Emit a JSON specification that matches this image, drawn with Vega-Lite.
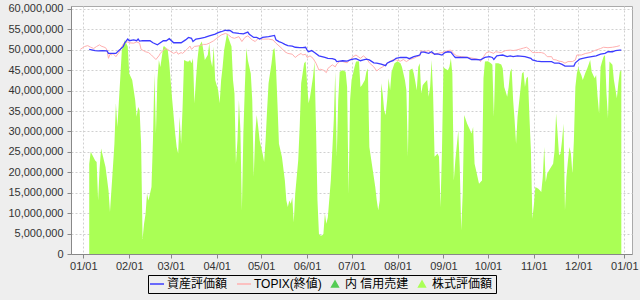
{
  "$schema": "https://vega.github.io/schema/vega-lite/v6.json",
  "autosize": {"type": "none"},
  "width": 561,
  "height": 248,
  "padding": {"left": 71, "top": 6, "right": 8, "bottom": 46},
  "background": "#eeeeee",
  "config": {
    "view": {"fill": "white", "stroke": "#aaaaaa"},
    "font": "Liberation Sans",
    "axis": {"labelFont": "Liberation Sans", "labelFontSize": 11, "labelColor": "#333333", "domainColor": "#888888", "tickColor": "#888888", "tickSize": 4, "gridColor": "#d0d0d0", "gridDash": [2, 2], "title": null}
  },
  "datasets": {
    "stock": [
      {"d":"2013-01-05","v":22000000},{"d":"2013-01-06","v":25000000},{"d":"2013-01-09","v":22900000},{"d":"2013-01-10","v":22500000},{"d":"2013-01-11","v":13100000},{"d":"2013-01-12","v":20900000},{"d":"2013-01-13","v":25800000},{"d":"2013-01-16","v":21300000},{"d":"2013-01-18","v":15600000},{"d":"2013-01-19","v":10300000},{"d":"2013-01-21","v":21300000},{"d":"2013-01-22","v":27000000},{"d":"2013-01-23","v":36900000},{"d":"2013-01-24","v":31100000},{"d":"2013-01-26","v":43400000},{"d":"2013-01-27","v":49900000},{"d":"2013-01-29","v":52400000},{"d":"2013-01-31","v":50800000},
      {"d":"2013-02-01","v":44200000},{"d":"2013-02-03","v":42600000},{"d":"2013-02-05","v":37700000},{"d":"2013-02-06","v":33600000},{"d":"2013-02-07","v":36000000},{"d":"2013-02-08","v":35200000},{"d":"2013-02-09","v":27000000},{"d":"2013-02-10","v":3700000},{"d":"2013-02-11","v":7400000},{"d":"2013-02-12","v":9800000},{"d":"2013-02-13","v":14800000},{"d":"2013-02-14","v":13100000},{"d":"2013-02-16","v":16400000},{"d":"2013-02-17","v":27800000},{"d":"2013-02-18","v":44200000},{"d":"2013-02-19","v":29500000},{"d":"2013-02-20","v":42600000},{"d":"2013-02-21","v":47500000},{"d":"2013-02-22","v":45800000},{"d":"2013-02-24","v":50800000},{"d":"2013-02-25","v":50800000},{"d":"2013-02-27","v":49900000},{"d":"2013-02-28","v":46700000},
      {"d":"2013-03-02","v":37700000},{"d":"2013-03-04","v":29500000},{"d":"2013-03-05","v":26200000},{"d":"2013-03-06","v":24600000},{"d":"2013-03-07","v":33600000},{"d":"2013-03-08","v":27000000},{"d":"2013-03-09","v":36000000},{"d":"2013-03-10","v":47500000},{"d":"2013-03-12","v":47100000},{"d":"2013-03-13","v":47100000},{"d":"2013-03-14","v":47500000},{"d":"2013-03-15","v":46700000},{"d":"2013-03-16","v":47900000},{"d":"2013-03-17","v":36900000},{"d":"2013-03-18","v":42600000},{"d":"2013-03-19","v":47500000},{"d":"2013-03-20","v":50800000},{"d":"2013-03-22","v":52000000},{"d":"2013-03-23","v":49900000},{"d":"2013-03-24","v":47500000},{"d":"2013-03-26","v":48700000},{"d":"2013-03-27","v":51600000},{"d":"2013-03-28","v":47500000},{"d":"2013-03-29","v":45800000},{"d":"2013-03-30","v":50800000},{"d":"2013-03-31","v":42600000},
      {"d":"2013-04-02","v":40100000},{"d":"2013-04-03","v":36900000},{"d":"2013-04-04","v":42600000},{"d":"2013-04-05","v":45800000},{"d":"2013-04-06","v":49900000},{"d":"2013-04-08","v":54000000},{"d":"2013-04-09","v":52800000},{"d":"2013-04-11","v":50800000},{"d":"2013-04-12","v":42600000},{"d":"2013-04-13","v":39300000},{"d":"2013-04-14","v":22100000},{"d":"2013-04-15","v":27800000},{"d":"2013-04-16","v":37700000},{"d":"2013-04-17","v":30300000},{"d":"2013-04-18","v":10700000},{"d":"2013-04-19","v":29500000},{"d":"2013-04-20","v":40900000},{"d":"2013-04-21","v":50400000},{"d":"2013-04-22","v":47500000},{"d":"2013-04-24","v":44200000},{"d":"2013-04-25","v":37700000},{"d":"2013-04-26","v":18900000},{"d":"2013-04-27","v":29500000},{"d":"2013-04-28","v":34000000},{"d":"2013-04-29","v":31100000},{"d":"2013-04-30","v":27800000},
      {"d":"2013-05-02","v":24600000},{"d":"2013-05-03","v":22500000},{"d":"2013-05-04","v":27800000},{"d":"2013-05-05","v":35200000},{"d":"2013-05-06","v":41800000},{"d":"2013-05-08","v":46700000},{"d":"2013-05-09","v":49900000},{"d":"2013-05-10","v":50400000},{"d":"2013-05-11","v":45800000},{"d":"2013-05-12","v":36900000},{"d":"2013-05-13","v":27000000},{"d":"2013-05-14","v":25400000},{"d":"2013-05-15","v":23800000},{"d":"2013-05-17","v":18000000},{"d":"2013-05-18","v":13100000},{"d":"2013-05-19","v":11500000},{"d":"2013-05-20","v":13100000},{"d":"2013-05-21","v":12300000},{"d":"2013-05-22","v":13900000},{"d":"2013-05-23","v":7800000},{"d":"2013-05-24","v":14800000},{"d":"2013-05-26","v":22900000},{"d":"2013-05-27","v":31100000},{"d":"2013-05-28","v":41800000},{"d":"2013-05-30","v":46700000},{"d":"2013-05-31","v":47100000},
      {"d":"2013-06-01","v":41800000},{"d":"2013-06-02","v":36900000},{"d":"2013-06-03","v":38500000},{"d":"2013-06-05","v":43400000},{"d":"2013-06-06","v":47100000},{"d":"2013-06-07","v":31100000},{"d":"2013-06-08","v":13100000},{"d":"2013-06-09","v":4900000},{"d":"2013-06-10","v":4500000},{"d":"2013-06-11","v":4500000},{"d":"2013-06-12","v":4900000},{"d":"2013-06-13","v":9900000},{"d":"2013-06-14","v":7400000},{"d":"2013-06-15","v":9000000},{"d":"2013-06-17","v":18000000},{"d":"2013-06-19","v":32800000},{"d":"2013-06-20","v":44600000},{"d":"2013-06-21","v":23800000},{"d":"2013-06-22","v":37700000},{"d":"2013-06-23","v":44600000},{"d":"2013-06-25","v":45000000},{"d":"2013-06-27","v":44600000},{"d":"2013-06-28","v":40900000},{"d":"2013-06-29","v":14800000},{"d":"2013-06-30","v":37700000},
      {"d":"2013-07-01","v":42600000},{"d":"2013-07-03","v":45800000},{"d":"2013-07-04","v":47100000},{"d":"2013-07-06","v":47200000},{"d":"2013-07-07","v":40900000},{"d":"2013-07-08","v":41300000},{"d":"2013-07-10","v":42600000},{"d":"2013-07-11","v":44600000},{"d":"2013-07-12","v":45400000},{"d":"2013-07-13","v":26200000},{"d":"2013-07-15","v":21300000},{"d":"2013-07-17","v":16400000},{"d":"2013-07-18","v":13100000},{"d":"2013-07-19","v":10700000},{"d":"2013-07-20","v":13100000},{"d":"2013-07-21","v":41800000},{"d":"2013-07-22","v":39300000},{"d":"2013-07-23","v":35200000},{"d":"2013-07-24","v":34000000},{"d":"2013-07-25","v":37700000},{"d":"2013-07-26","v":43000000},{"d":"2013-07-27","v":40100000},{"d":"2013-07-28","v":44600000},{"d":"2013-07-30","v":46700000},
      {"d":"2013-08-01","v":47200000},{"d":"2013-08-03","v":46700000},{"d":"2013-08-04","v":45800000},{"d":"2013-08-06","v":42600000},{"d":"2013-08-07","v":40100000},{"d":"2013-08-08","v":23800000},{"d":"2013-08-09","v":45000000},{"d":"2013-08-11","v":45400000},{"d":"2013-08-12","v":44200000},{"d":"2013-08-13","v":42200000},{"d":"2013-08-14","v":40100000},{"d":"2013-08-15","v":45800000},{"d":"2013-08-16","v":46700000},{"d":"2013-08-17","v":39300000},{"d":"2013-08-18","v":41300000},{"d":"2013-08-19","v":41800000},{"d":"2013-08-21","v":42600000},{"d":"2013-08-22","v":38500000},{"d":"2013-08-23","v":40900000},{"d":"2013-08-24","v":47500000},{"d":"2013-08-25","v":39300000},{"d":"2013-08-26","v":23800000},{"d":"2013-08-27","v":24200000},{"d":"2013-08-28","v":24600000},{"d":"2013-08-29","v":23800000},{"d":"2013-08-30","v":11500000},{"d":"2013-08-31","v":25400000},
      {"d":"2013-09-01","v":45800000},{"d":"2013-09-02","v":45400000},{"d":"2013-09-04","v":45000000},{"d":"2013-09-05","v":45800000},{"d":"2013-09-06","v":47900000},{"d":"2013-09-07","v":44200000},{"d":"2013-09-08","v":18000000},{"d":"2013-09-09","v":22900000},{"d":"2013-09-11","v":30300000},{"d":"2013-09-12","v":21300000},{"d":"2013-09-13","v":5800000},{"d":"2013-09-14","v":14800000},{"d":"2013-09-15","v":34000000},{"d":"2013-09-17","v":31900000},{"d":"2013-09-19","v":30300000},{"d":"2013-09-20","v":29500000},{"d":"2013-09-21","v":31100000},{"d":"2013-09-22","v":22100000},{"d":"2013-09-23","v":20500000},{"d":"2013-09-25","v":17200000},{"d":"2013-09-26","v":17600000},{"d":"2013-09-27","v":18000000},{"d":"2013-09-28","v":43000000},{"d":"2013-09-29","v":47100000},
      {"d":"2013-10-01","v":47200000},{"d":"2013-10-03","v":46700000},{"d":"2013-10-04","v":46300000},{"d":"2013-10-05","v":33600000},{"d":"2013-10-06","v":46700000},{"d":"2013-10-08","v":46700000},{"d":"2013-10-10","v":46400000},{"d":"2013-10-11","v":45400000},{"d":"2013-10-12","v":40900000},{"d":"2013-10-14","v":38500000},{"d":"2013-10-15","v":40900000},{"d":"2013-10-16","v":44600000},{"d":"2013-10-17","v":45400000},{"d":"2013-10-18","v":37700000},{"d":"2013-10-19","v":32800000},{"d":"2013-10-20","v":27000000},{"d":"2013-10-21","v":33600000},{"d":"2013-10-23","v":40500000},{"d":"2013-10-24","v":44200000},{"d":"2013-10-25","v":44600000},{"d":"2013-10-26","v":40900000},{"d":"2013-10-27","v":43000000},{"d":"2013-10-28","v":43400000},{"d":"2013-10-29","v":33600000},{"d":"2013-10-30","v":25400000},{"d":"2013-10-31","v":8600000},
      {"d":"2013-11-01","v":12000000},{"d":"2013-11-02","v":16400000},{"d":"2013-11-04","v":16000000},{"d":"2013-11-05","v":15600000},{"d":"2013-11-06","v":15200000},{"d":"2013-11-07","v":18800000},{"d":"2013-11-08","v":26200000},{"d":"2013-11-09","v":17600000},{"d":"2013-11-10","v":19700000},{"d":"2013-11-12","v":20900000},{"d":"2013-11-14","v":22100000},{"d":"2013-11-15","v":25400000},{"d":"2013-11-16","v":34400000},{"d":"2013-11-17","v":29500000},{"d":"2013-11-18","v":24200000},{"d":"2013-11-19","v":24600000},{"d":"2013-11-20","v":27800000},{"d":"2013-11-21","v":31900000},{"d":"2013-11-22","v":10700000},{"d":"2013-11-23","v":18900000},{"d":"2013-11-24","v":22900000},{"d":"2013-11-25","v":26200000},{"d":"2013-11-26","v":24600000},{"d":"2013-11-27","v":19700000},{"d":"2013-11-28","v":27800000},{"d":"2013-11-29","v":40900000},{"d":"2013-11-30","v":44200000},
      {"d":"2013-12-01","v":45800000},{"d":"2013-12-02","v":44600000},{"d":"2013-12-03","v":43800000},{"d":"2013-12-04","v":42600000},{"d":"2013-12-06","v":44600000},{"d":"2013-12-07","v":45400000},{"d":"2013-12-09","v":47500000},{"d":"2013-12-10","v":44600000},{"d":"2013-12-12","v":43000000},{"d":"2013-12-13","v":43800000},{"d":"2013-12-14","v":38500000},{"d":"2013-12-15","v":34400000},{"d":"2013-12-16","v":45800000},{"d":"2013-12-17","v":47100000},{"d":"2013-12-18","v":48300000},{"d":"2013-12-19","v":48700000},{"d":"2013-12-20","v":39300000},{"d":"2013-12-21","v":33200000},{"d":"2013-12-22","v":47100000},{"d":"2013-12-24","v":46300000},{"d":"2013-12-25","v":42600000},{"d":"2013-12-27","v":38100000},{"d":"2013-12-28","v":41800000},{"d":"2013-12-29","v":44600000},{"d":"2013-12-30","v":45000000}
    ],
    "asset": [
      {"d":"2013-01-05","v":50100000},{"d":"2013-01-09","v":49800000},{"d":"2013-01-11","v":49700000},{"d":"2013-01-14","v":49800000},{"d":"2013-01-17","v":49700000},{"d":"2013-01-18","v":49100000},{"d":"2013-01-23","v":49100000},{"d":"2013-01-25","v":49800000},{"d":"2013-01-26","v":50100000},{"d":"2013-01-28","v":50800000},{"d":"2013-01-29","v":51700000},{"d":"2013-01-31","v":52600000},
      {"d":"2013-02-01","v":52200000},{"d":"2013-02-04","v":52400000},{"d":"2013-02-06","v":52200000},{"d":"2013-02-07","v":52600000},{"d":"2013-02-08","v":52100000},{"d":"2013-02-10","v":52200000},{"d":"2013-02-15","v":52200000},{"d":"2013-02-17","v":51700000},{"d":"2013-02-20","v":51200000},{"d":"2013-02-22","v":51700000},{"d":"2013-02-24","v":52200000},{"d":"2013-02-26","v":52200000},{"d":"2013-02-28","v":52700000},
      {"d":"2013-03-03","v":51700000},{"d":"2013-03-08","v":51700000},{"d":"2013-03-11","v":52400000},{"d":"2013-03-13","v":53000000},{"d":"2013-03-15","v":52800000},{"d":"2013-03-16","v":52000000},{"d":"2013-03-18","v":52600000},{"d":"2013-03-21","v":52800000},{"d":"2013-03-24","v":53000000},{"d":"2013-03-27","v":53400000},{"d":"2013-03-31","v":53800000},
      {"d":"2013-04-02","v":54200000},{"d":"2013-04-04","v":54400000},{"d":"2013-04-07","v":54800000},{"d":"2013-04-08","v":54700000},{"d":"2013-04-10","v":54700000},{"d":"2013-04-12","v":54200000},{"d":"2013-04-16","v":54000000},{"d":"2013-04-19","v":53900000},{"d":"2013-04-22","v":54300000},{"d":"2013-04-23","v":53800000},{"d":"2013-04-26","v":53000000},{"d":"2013-04-28","v":53000000},{"d":"2013-04-30","v":52600000},
      {"d":"2013-05-02","v":53000000},{"d":"2013-05-06","v":53200000},{"d":"2013-05-10","v":53500000},{"d":"2013-05-11","v":52400000},{"d":"2013-05-13","v":52000000},{"d":"2013-05-15","v":51700000},{"d":"2013-05-17","v":51300000},{"d":"2013-05-19","v":51000000},{"d":"2013-05-22","v":50900000},{"d":"2013-05-24","v":50600000},{"d":"2013-05-27","v":50500000},{"d":"2013-05-29","v":50500000},{"d":"2013-05-31","v":50600000},
      {"d":"2013-06-01","v":49900000},{"d":"2013-06-02","v":49500000},{"d":"2013-06-04","v":49800000},{"d":"2013-06-06","v":49300000},{"d":"2013-06-09","v":48500000},{"d":"2013-06-11","v":48300000},{"d":"2013-06-13","v":48100000},{"d":"2013-06-15","v":47900000},{"d":"2013-06-18","v":47800000},{"d":"2013-06-20","v":47600000},{"d":"2013-06-21","v":47100000},{"d":"2013-06-23","v":47200000},{"d":"2013-06-25","v":47300000},{"d":"2013-06-28","v":47200000},{"d":"2013-06-30","v":47500000},
      {"d":"2013-07-02","v":47700000},{"d":"2013-07-04","v":47800000},{"d":"2013-07-07","v":47300000},{"d":"2013-07-09","v":47500000},{"d":"2013-07-11","v":47700000},{"d":"2013-07-13","v":47500000},{"d":"2013-07-16","v":46800000},{"d":"2013-07-18","v":46700000},{"d":"2013-07-21","v":46500000},{"d":"2013-07-24","v":46100000},{"d":"2013-07-25","v":46700000},{"d":"2013-07-27","v":47100000},{"d":"2013-07-29","v":47300000},{"d":"2013-07-31","v":47900000},
      {"d":"2013-08-03","v":48100000},{"d":"2013-08-07","v":48100000},{"d":"2013-08-09","v":47800000},{"d":"2013-08-12","v":48300000},{"d":"2013-08-14","v":48500000},{"d":"2013-08-16","v":48700000},{"d":"2013-08-17","v":49400000},{"d":"2013-08-19","v":49400000},{"d":"2013-08-22","v":49100000},{"d":"2013-08-24","v":49500000},{"d":"2013-08-26","v":48900000},{"d":"2013-08-28","v":49000000},{"d":"2013-08-31","v":48700000},
      {"d":"2013-09-02","v":49300000},{"d":"2013-09-04","v":49500000},{"d":"2013-09-06","v":49400000},{"d":"2013-09-08","v":48500000},{"d":"2013-09-09","v":48100000},{"d":"2013-09-12","v":48100000},{"d":"2013-09-14","v":48100000},{"d":"2013-09-17","v":48100000},{"d":"2013-09-20","v":47600000},{"d":"2013-09-23","v":47600000},{"d":"2013-09-26","v":47500000},{"d":"2013-09-29","v":48100000},
      {"d":"2013-10-02","v":48300000},{"d":"2013-10-04","v":48100000},{"d":"2013-10-05","v":47600000},{"d":"2013-10-07","v":48500000},{"d":"2013-10-09","v":48600000},{"d":"2013-10-11","v":48700000},{"d":"2013-10-14","v":48300000},{"d":"2013-10-16","v":48500000},{"d":"2013-10-18","v":48300000},{"d":"2013-10-21","v":48500000},{"d":"2013-10-26","v":48300000},{"d":"2013-10-30","v":47900000},{"d":"2013-10-31","v":47500000},
      {"d":"2013-11-03","v":47200000},{"d":"2013-11-06","v":47100000},{"d":"2013-11-10","v":47100000},{"d":"2013-11-13","v":47100000},{"d":"2013-11-15","v":46700000},{"d":"2013-11-18","v":46700000},{"d":"2013-11-20","v":46400000},{"d":"2013-11-22","v":46000000},{"d":"2013-11-25","v":46000000},{"d":"2013-11-28","v":46000000},{"d":"2013-11-29","v":46800000},
      {"d":"2013-12-02","v":47700000},{"d":"2013-12-04","v":47900000},{"d":"2013-12-07","v":48100000},{"d":"2013-12-10","v":48300000},{"d":"2013-12-13","v":48500000},{"d":"2013-12-16","v":48900000},{"d":"2013-12-19","v":49100000},{"d":"2013-12-21","v":49500000},{"d":"2013-12-24","v":49500000},{"d":"2013-12-26","v":49800000},{"d":"2013-12-29","v":49900000},{"d":"2013-12-30","v":49900000}
    ],
    "topix": [
      {"d":"2012-12-30","v":50100000},{"d":"2013-01-02","v":50800000},{"d":"2013-01-04","v":51000000},{"d":"2013-01-06","v":50600000},{"d":"2013-01-08","v":50300000},{"d":"2013-01-10","v":50800000},{"d":"2013-01-12","v":51200000},{"d":"2013-01-13","v":50900000},{"d":"2013-01-16","v":50500000},{"d":"2013-01-17","v":49900000},{"d":"2013-01-18","v":47900000},{"d":"2013-01-19","v":48900000},{"d":"2013-01-20","v":48700000},{"d":"2013-01-21","v":49100000},{"d":"2013-01-23","v":48300000},{"d":"2013-01-25","v":49300000},{"d":"2013-01-26","v":50100000},{"d":"2013-01-28","v":51400000},{"d":"2013-01-29","v":51700000},{"d":"2013-01-31","v":51900000},
      {"d":"2013-02-01","v":51700000},{"d":"2013-02-04","v":51600000},{"d":"2013-02-06","v":51900000},{"d":"2013-02-08","v":51600000},{"d":"2013-02-09","v":50100000},{"d":"2013-02-12","v":49500000},{"d":"2013-02-14","v":49300000},{"d":"2013-02-16","v":48700000},{"d":"2013-02-19","v":47600000},{"d":"2013-02-21","v":48500000},{"d":"2013-02-22","v":49100000},{"d":"2013-02-24","v":49900000},{"d":"2013-02-26","v":50300000},{"d":"2013-02-28","v":49800000},
      {"d":"2013-03-03","v":49100000},{"d":"2013-03-05","v":49500000},{"d":"2013-03-06","v":48900000},{"d":"2013-03-08","v":49300000},{"d":"2013-03-09","v":49100000},{"d":"2013-03-12","v":50100000},{"d":"2013-03-14","v":50900000},{"d":"2013-03-15","v":50100000},{"d":"2013-03-17","v":50800000},{"d":"2013-03-21","v":51000000},{"d":"2013-03-23","v":51300000},{"d":"2013-03-25","v":51300000},{"d":"2013-03-27","v":51600000},{"d":"2013-03-30","v":52200000},
      {"d":"2013-04-01","v":52800000},{"d":"2013-04-04","v":53600000},{"d":"2013-04-07","v":54000000},{"d":"2013-04-09","v":53600000},{"d":"2013-04-11","v":53000000},{"d":"2013-04-13","v":52800000},{"d":"2013-04-16","v":53200000},{"d":"2013-04-18","v":52000000},{"d":"2013-04-20","v":53000000},{"d":"2013-04-22","v":53400000},{"d":"2013-04-25","v":52400000},{"d":"2013-04-27","v":52000000},{"d":"2013-04-29","v":52800000},
      {"d":"2013-05-02","v":52600000},{"d":"2013-05-06","v":52600000},{"d":"2013-05-09","v":52400000},{"d":"2013-05-11","v":51600000},{"d":"2013-05-15","v":50300000},{"d":"2013-05-17","v":49500000},{"d":"2013-05-19","v":49100000},{"d":"2013-05-22","v":48900000},{"d":"2013-05-24","v":48100000},{"d":"2013-05-26","v":48700000},{"d":"2013-05-28","v":49100000},{"d":"2013-05-29","v":48700000},{"d":"2013-05-31","v":48900000},
      {"d":"2013-06-01","v":48100000},{"d":"2013-06-03","v":48500000},{"d":"2013-06-05","v":47900000},{"d":"2013-06-07","v":46700000},{"d":"2013-06-09","v":45000000},{"d":"2013-06-10","v":45200000},{"d":"2013-06-12","v":45000000},{"d":"2013-06-14","v":44400000},{"d":"2013-06-15","v":45400000},{"d":"2013-06-18","v":46300000},{"d":"2013-06-20","v":45800000},{"d":"2013-06-21","v":46500000},{"d":"2013-06-23","v":47100000},{"d":"2013-06-25","v":47100000},{"d":"2013-06-28","v":46800000},{"d":"2013-06-30","v":47500000},
      {"d":"2013-07-02","v":48300000},{"d":"2013-07-04","v":48700000},{"d":"2013-07-07","v":47900000},{"d":"2013-07-09","v":48500000},{"d":"2013-07-11","v":47900000},{"d":"2013-07-13","v":46800000},{"d":"2013-07-16","v":45800000},{"d":"2013-07-18","v":44800000},{"d":"2013-07-20","v":45400000},{"d":"2013-07-22","v":45800000},{"d":"2013-07-25","v":46700000},{"d":"2013-07-27","v":47100000},{"d":"2013-07-29","v":47600000},{"d":"2013-07-31","v":47500000},
      {"d":"2013-08-03","v":47200000},{"d":"2013-08-05","v":47600000},{"d":"2013-08-07","v":47100000},{"d":"2013-08-09","v":47600000},{"d":"2013-08-12","v":47900000},{"d":"2013-08-14","v":48300000},{"d":"2013-08-16","v":48500000},{"d":"2013-08-17","v":49800000},{"d":"2013-08-19","v":49500000},{"d":"2013-08-22","v":49800000},{"d":"2013-08-24","v":49100000},{"d":"2013-08-26","v":49000000},{"d":"2013-08-28","v":49100000},{"d":"2013-08-31","v":49300000},
      {"d":"2013-09-02","v":49500000},{"d":"2013-09-04","v":49800000},{"d":"2013-09-06","v":49900000},{"d":"2013-09-08","v":49000000},{"d":"2013-09-10","v":48500000},{"d":"2013-09-13","v":48300000},{"d":"2013-09-18","v":48100000},{"d":"2013-09-21","v":47900000},{"d":"2013-09-25","v":47600000},{"d":"2013-09-26","v":47100000},{"d":"2013-09-28","v":48300000},{"d":"2013-09-30","v":49300000},
      {"d":"2013-10-02","v":49500000},{"d":"2013-10-05","v":49100000},{"d":"2013-10-06","v":49500000},{"d":"2013-10-08","v":49400000},{"d":"2013-10-10","v":49300000},{"d":"2013-10-13","v":49800000},{"d":"2013-10-16","v":49900000},{"d":"2013-10-18","v":49800000},{"d":"2013-10-20","v":49900000},{"d":"2013-10-23","v":50200000},{"d":"2013-10-25","v":50400000},{"d":"2013-10-27","v":50600000},{"d":"2013-10-29","v":50100000},{"d":"2013-10-31","v":49300000},
      {"d":"2013-11-02","v":49300000},{"d":"2013-11-04","v":49300000},{"d":"2013-11-06","v":49300000},{"d":"2013-11-08","v":49100000},{"d":"2013-11-10","v":48300000},{"d":"2013-11-13","v":48300000},{"d":"2013-11-14","v":47600000},{"d":"2013-11-16","v":47500000},{"d":"2013-11-18","v":47200000},{"d":"2013-11-20","v":47100000},{"d":"2013-11-22","v":46700000},{"d":"2013-11-24","v":47100000},{"d":"2013-11-27","v":47100000},{"d":"2013-11-29","v":47500000},{"d":"2013-11-30","v":48700000},
      {"d":"2013-12-03","v":48700000},{"d":"2013-12-06","v":49100000},{"d":"2013-12-09","v":49300000},{"d":"2013-12-12","v":49800000},{"d":"2013-12-16","v":50300000},{"d":"2013-12-18","v":50600000},{"d":"2013-12-21","v":50500000},{"d":"2013-12-24","v":50600000},{"d":"2013-12-27","v":50800000},{"d":"2013-12-29","v":51000000}
    ]
  },
  "encoding": {
    "x": {
      "field": "d",
      "type": "temporal",
      "scale": {
        "type": "utc",
        "domain": [
          {"year": 2012, "month": 12, "date": 23, "hours": 17, "utc": true},
          {"year": 2014, "month": 1, "date": 6, "hours": 5, "utc": true}
        ]
      },
      "axis": {
        "format": "%m/%d",
        "labelPadding": 2,
        "title": null,
        "values": [
          {"year": 2013, "month": 1, "date": 1, "utc": true},
          {"year": 2013, "month": 2, "date": 1, "utc": true},
          {"year": 2013, "month": 3, "date": 1, "utc": true},
          {"year": 2013, "month": 4, "date": 1, "utc": true},
          {"year": 2013, "month": 5, "date": 1, "utc": true},
          {"year": 2013, "month": 6, "date": 1, "utc": true},
          {"year": 2013, "month": 7, "date": 1, "utc": true},
          {"year": 2013, "month": 8, "date": 1, "utc": true},
          {"year": 2013, "month": 9, "date": 1, "utc": true},
          {"year": 2013, "month": 10, "date": 1, "utc": true},
          {"year": 2013, "month": 11, "date": 1, "utc": true},
          {"year": 2013, "month": 12, "date": 1, "utc": true},
          {"year": 2014, "month": 1, "date": 1, "utc": true}
        ]
      }
    },
    "y": {
      "field": "v",
      "type": "quantitative",
      "scale": {"domain": [0, 60700000], "nice": false, "zero": true},
      "axis": {
        "values": [0, 5000000, 10000000, 15000000, 20000000, 25000000, 30000000, 35000000, 40000000, 45000000, 50000000, 55000000, 60000000],
        "format": ",d",
        "labelPadding": 4,
        "title": null
      }
    }
  },
  "layer": [
    {
      "data": {"name": "stock"},
      "mark": {"type": "area", "interpolate": "linear"},
      "encoding": {
        "color": {
          "datum": "株式評価額",
          "type": "nominal",
          "scale": {
            "domain": ["資産評価額", "TOPIX(終値)", "内 信用売建", "株式評価額"],
            "range": ["#3c3cff", "#ffb0b0", "#55cc55", "#aaff55"]
          },
          "legend": {
            "title": null,
            "orient": "none",
            "legendX": 77,
            "legendY": 269,
            "direction": "horizontal",
            "columns": 4,
            "strokeColor": "#000000",
            "padding": 3,
            "labelFont": "Liberation Sans, Noto Sans CJK JP",
            "labelFontSize": 12,
            "labelColor": "#000000",
            "symbolSize": 144,
            "labelOffset": 4,
            "columnPadding": 6,
            "symbolStrokeWidth": 1.5,
            "encode": {
              "symbols": {
                "update": {
                  "shape": {"signal": "indexof(['資産評価額','TOPIX(終値)'], datum.value) >= 0 ? 'stroke' : 'triangle-up'"},
                  "size": {"signal": "indexof(['資産評価額','TOPIX(終値)'], datum.value) >= 0 ? 196 : 45"},
                  "fill": {"scale": "color", "field": "value"},
                  "stroke": {"scale": "color", "field": "value"},
                  "opacity": {"value": 1}
                }
              }
            }
          }
        }
      }
    },
    {
      "data": {"name": "topix"},
      "mark": {"type": "line", "strokeWidth": 1},
      "encoding": {"color": {"datum": "TOPIX(終値)", "type": "nominal"}}
    },
    {
      "data": {"name": "asset"},
      "mark": {"type": "line", "strokeWidth": 1.3},
      "encoding": {"color": {"datum": "資産評価額", "type": "nominal"}}
    }
  ]
}
